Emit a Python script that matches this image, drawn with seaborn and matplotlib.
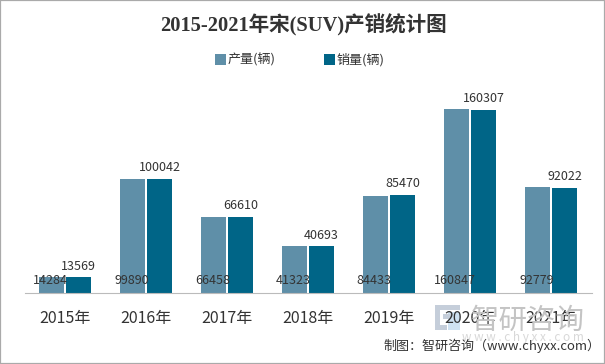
import matplotlib
matplotlib.use("Agg")
import matplotlib.pyplot as plt
from matplotlib.patches import Rectangle
import pandas as pd
import seaborn as sns

years = ["2015年", "2016年", "2017年", "2018年", "2019年", "2020年", "2021年"]
production = [14284, 99890, 66458, 41323, 84433, 160847, 92779]
sales = [13569, 100042, 66610, 40693, 85470, 160307, 92022]
series_names = ["产量(辆)", "销量(辆)"]
palette = ["#5F8FA8", "#006587"]
title = "2015-2021年宋(SUV)产销统计图"
credit = "制图：智研咨询（www.chyxx.com）"

sns.set_theme(style="white")
CJK = ["Noto Sans CJK SC", "DejaVu Sans"]
plt.rcParams["font.family"] = CJK
W, H = 605, 364
fig = plt.figure(figsize=(W / 100, H / 100), dpi=100, facecolor="white")
ax = fig.add_axes([24.5 / W, (H - 293) / H, 567 / W, 208 / H])
ax.patch.set_alpha(0)

df = pd.DataFrame({
    "year": years * 2,
    "value": production + sales,
    "series": [series_names[0]] * 7 + [series_names[1]] * 7,
})

# watermark, behind the chart
fig.text(528 / W, 1 - 321 / H, "智研咨询", fontsize=20.5, color="#C4C4C4", ha="center", va="center", zorder=0)
fig.text(523 / W, 1 - 337 / H, "w w w . c h y x x . c o m", fontsize=8.5, color="#D8D8D8", ha="center", va="center", zorder=0)
for (x, y, w, h, c) in [(435, 305, 25, 5, "#C5CEDA"), (435, 305, 5, 25, "#C5CEDA"),
                        (435, 325, 12, 5, "#C5CEDA"), (448, 312, 12, 18, "#CFE2F2"),
                        (443, 314, 8, 5, "#C5CEDA")]:
    fig.add_artist(Rectangle((x / W, 1 - (y + h) / H), w / W, h / H, transform=fig.transFigure,
                             facecolor=c, edgecolor="none", zorder=0))

sns.barplot(data=df, x="year", y="value", hue="series", palette=palette, ax=ax,
            width=0.674, gap=0.1, saturation=1, legend=True, zorder=2, linewidth=0)

ax.set_xlim(-0.5, 6.5)
ax.set_ylim(0, 208 / (184 / 160847))
ax.set_xlabel("")
ax.set_ylabel("")
ax.set_yticks([])
ax.tick_params(axis="x", length=0, pad=12, labelsize=11.5, labelcolor="#333333")
for s in ["top", "left", "right"]:
    ax.spines[s].set_visible(False)
ax.spines["bottom"].set_color("#BBBBBB")
ax.spines["bottom"].set_linewidth(0.8)
ax.spines["bottom"].set_linestyle((0, (1, 1)))

# value labels
bars_a, bars_b = ax.containers[0], ax.containers[1]
for rect, v in zip(bars_a, production):
    ax.annotate(str(v), (rect.get_x() + rect.get_width() / 2, 0), xytext=(-1, 12.5),
                textcoords="offset pixels", ha="center", va="center", fontsize=9.0,
                color="#333333", zorder=5)
ax.bar_label(bars_b, labels=[str(v) for v in sales], padding=3.5, fontsize=9.0, color="#333333", zorder=5)

leg = ax.get_legend()
handles = leg.legend_handles
leg.remove()
fig.legend(handles, series_names, loc="center", bbox_to_anchor=(299.5 / W, 1 - 60 / H), ncol=2,
           frameon=False, fontsize=9.4, columnspacing=3.7, handlelength=0.85, handleheight=0.9,
           handletextpad=0.1, labelcolor="#333333")

fig.text(303 / W, 1 - 25 / H, title, ha="center", va="center", fontsize=14.8, fontweight="bold",
         color="#333333", family=["Liberation Serif", "Noto Sans CJK SC"])
fig.text(600 / W, 1 - 346 / H, credit, ha="right", va="center", fontsize=9.4, color="#333333", zorder=6)

fig.add_artist(Rectangle((0, 0), 1, 1, transform=fig.transFigure, fill=False,
                         edgecolor="#AAAAAA", linewidth=1.6))
fig.savefig("out.png", dpi=100)
